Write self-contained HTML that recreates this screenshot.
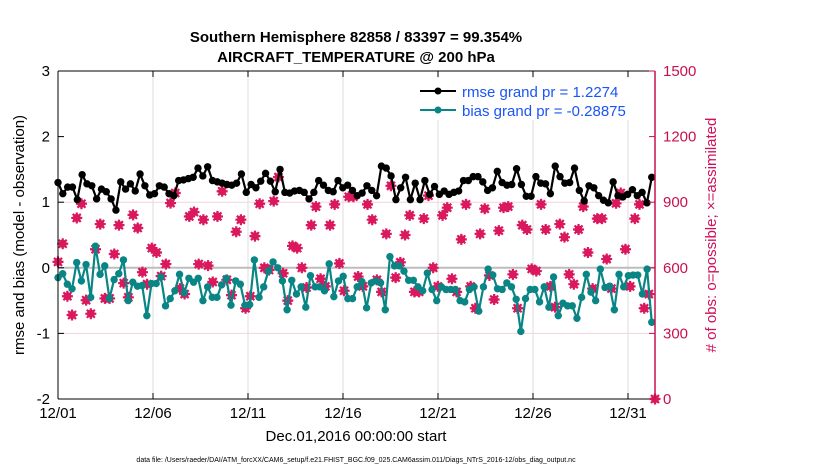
<!DOCTYPE html>
<html><head><meta charset="utf-8"><style>
body{margin:0;background:#fff;}
svg{display:block;font-family:"Liberation Sans",sans-serif;}
</style></head><body>
<svg id="chart" width="830" height="470" viewBox="0 0 830 470">
<rect width="830" height="470" fill="#fff"/>
<g id="grid"></g><g id="marks"></g><g id="axes"></g>
<text x="356" y="42" text-anchor="middle" font-size="15" font-weight="bold">Southern Hemisphere 82858 / 83397 = 99.354%</text>
<text x="356" y="62" text-anchor="middle" font-size="15" font-weight="bold">AIRCRAFT_TEMPERATURE @ 200 hPa</text>
<text x="356" y="441" text-anchor="middle" font-size="15">Dec.01,2016 00:00:00 start</text>
<text transform="translate(24,235) rotate(-90)" text-anchor="middle" font-size="15">rmse and bias (model - observation)</text>
<text transform="translate(716,235) rotate(-90)" text-anchor="middle" font-size="15" fill="#d0105a"># of obs: o=possible; ×=assimilated</text>
<text x="356" y="462" text-anchor="middle" font-size="7">data file: /Users/raeder/DAI/ATM_forcXX/CAM6_setup/f.e21.FHIST_BGC.f09_025.CAM6assim.011/Diags_NTrS_2016-12/obs_diag_output.nc</text>
<g>
<rect x="414" y="78" width="238" height="42" fill="#fff"/>
<line x1="420" y1="91" x2="456" y2="91" stroke="#000" stroke-width="2"/><circle cx="438" cy="91" r="3.5" fill="#000"/>
<text x="462" y="97" font-size="15" fill="#1a55f5">rmse grand pr = 1.2274</text>
<line x1="420" y1="110" x2="456" y2="110" stroke="#0a8585" stroke-width="2"/><circle cx="438" cy="110" r="3.5" fill="#0a8585"/>
<text x="462" y="116" font-size="15" fill="#1a55f5">bias grand pr = -0.28875</text>
</g>
</svg>
<script>
const rmse=[1.30,1.13,1.23,1.23,1.04,1.42,1.28,1.25,1.05,1.20,1.16,1.05,0.88,1.31,1.20,1.28,1.17,1.43,1.25,1.11,1.13,1.25,1.23,1.13,1.10,1.33,1.34,1.36,1.38,1.52,
1.40,1.54,1.33,1.31,1.29,1.27,1.26,1.29,1.43,1.15,1.27,1.22,1.32,1.44,1.32,1.16,1.50,1.15,1.14,1.17,1.18,1.15,1.05,1.15,1.33,1.26,1.18,1.16,1.33,1.22,1.26,1.18,
1.10,1.14,1.25,1.18,1.10,1.55,1.52,1.40,1.04,1.22,1.38,1.04,1.29,1.04,1.33,1.12,1.24,1.12,1.17,1.12,1.15,1.17,1.33,1.33,1.39,1.39,1.31,1.18,1.22,1.47,1.30,
1.26,1.27,1.51,1.27,1.09,1.09,1.39,1.29,1.28,1.13,1.55,1.39,1.29,1.30,1.52,1.18,1.02,1.25,1.22,1.10,1.03,0.99,1.31,1.10,1.08,1.12,1.19,1.10,1.15,0.99,1.38];
const bias=[-0.15,-0.09,-0.25,-0.32,0.08,-0.20,0.05,-0.45,0.33,-0.10,0.03,-0.47,-0.18,-0.09,0.12,-0.50,-0.22,-0.28,-0.27,-0.73,-0.24,-0.24,-0.14,-0.58,-0.47,-0.35,-0.10,-0.38,-0.16,-0.22,-0.16,-0.50,
-0.29,-0.45,-0.45,-0.26,-0.16,-0.57,-0.20,-0.25,-0.57,-0.56,0.12,-0.45,-0.29,-0.05,0.09,0.00,-0.20,-0.64,-0.19,-0.40,-0.29,-0.60,-0.12,-0.29,-0.29,-0.35,0.06,-0.44,-0.20,-0.13,-0.47,-0.47,-0.29,
-0.21,-0.61,-0.23,-0.20,-0.23,-0.64,0.17,0.03,0.03,-0.05,-0.19,-0.19,-0.29,-0.35,-0.08,-0.33,-0.50,-0.29,-0.33,-0.33,-0.33,-0.50,-0.52,-0.33,-0.29,-0.66,-0.29,-0.02,-0.11,-0.32,-0.33,-0.23,
-0.29,-0.48,-0.97,-0.47,-0.33,-0.33,-0.52,-0.29,-0.60,-0.14,-0.73,-0.54,-0.58,-0.58,-0.77,-0.45,-0.10,-0.37,-0.50,-0.02,-0.30,-0.28,-0.64,-0.10,-0.29,-0.12,-0.11,-0.11,-0.40,-0.02,-0.83];
const counts=[627,710,470,384,828,893,452,390,685,800,460,460,663,795,530,465,842,782,580,525,690,670,562,617,896,942,505,480,835,855,617,820,
610,535,835,950,545,475,765,820,415,470,745,893,600,590,905,1015,575,450,700,690,600,510,795,880,550,515,795,890,620,495,925,925,
560,515,890,820,545,490,755,975,555,625,750,840,490,490,825,930,600,515,840,875,550,490,730,890,515,415,755,870,565,455,770,875,
880,570,415,795,775,595,585,890,775,515,420,800,740,570,525,775,880,670,505,825,825,640,505,895,942,685,515,825,890,415,480,0];
const xTickLabels=["12/01","12/06","12/11","12/16","12/21","12/26","12/31"];
const xTickDays=[0,5,10,15,20,25,30];
const yLeftTicks=[3,2,1,0,-1,-2];
const yRightTicks=[1500,1200,900,600,300,0];

const NS="http://www.w3.org/2000/svg";
const L=58,R=655,T=71,B=399;
const xDay=d=>L+d*19;
const yL=v=>B-(v+2)*(B-T)/5;
const yR=v=>B-v*(B-T)/1500;
function mk(tag,attrs,parent){const e=document.createElementNS(NS,tag);for(const k in attrs)e.setAttribute(k,attrs[k]);parent.appendChild(e);return e;}
const grid=document.getElementById('grid'),marks=document.getElementById('marks'),axes=document.getElementById('axes');
const seriesX=(i,n,start,end)=>xDay(start+(end-start)*i/(n-1));

xTickDays.forEach(d=>{const g=mk('line',{x1:xDay(d),x2:xDay(d),y1:T,y2:B,stroke:'#dcdcdc','stroke-width':1},grid);

});
[900,300].forEach(v=>{const g=mk('line',{x1:L,x2:R,y1:yR(v),y2:yR(v),stroke:'#f3d3de','stroke-width':1},grid);

});
const zl=mk('line',{x1:L,x2:R,y1:yL(0),y2:yL(0),stroke:'#bdbdbd','stroke-width':2},grid);



counts.forEach((c,i)=>{
  const x=i===counts.length-1?R:seriesX(i,counts.length-1,0,31.1),y=yR(c);
  const g=mk('g',{},marks);
  
  
  mk('circle',{cx:x,cy:y,r:4,fill:'#d9185d'},g);
  mk('path',{d:`M${x-5.5} ${y}H${x+5.5}M${x} ${y-5.5}V${y+5.5}M${x-4} ${y-4}L${x+4} ${y+4}M${x-4} ${y+4}L${x+4} ${y-4}`,stroke:'#d9185d','stroke-width':2.2},g);
});
function drawSeries(vals,color,name){
  const n=vals.length;
  const pts=vals.map((v,i)=>[seriesX(i,n,0,31.25),yL(v)]);
  const p=mk('polyline',{points:pts.map(p=>p.join(',')).join(' '),fill:'none',stroke:color,'stroke-width':2.2},marks);
  
  
  pts.forEach(q=>{const c=mk('circle',{cx:q[0],cy:q[1],r:3.7,fill:color},marks);
  
  });
}
drawSeries(bias,'#0a8585','bias');
drawSeries(rmse,'#000','rmse');

mk('line',{x1:L,x2:R,y1:T,y2:T,stroke:'#000','stroke-width':1},axes);
mk('line',{x1:L,x2:R,y1:B,y2:B,stroke:'#000','stroke-width':1},axes);
mk('line',{x1:L,x2:L,y1:T,y2:B,stroke:'#000','stroke-width':1},axes);
mk('line',{x1:R,x2:R,y1:T,y2:B,stroke:'#c8104f','stroke-width':1.5},axes);
xTickDays.forEach((d,i)=>{
  mk('line',{x1:xDay(d),x2:xDay(d),y1:B,y2:B-6,stroke:'#000'},axes);
  mk('line',{x1:xDay(d),x2:xDay(d),y1:T,y2:T+6,stroke:'#000'},axes);
  const t=mk('text',{x:xDay(d),y:B+19,'text-anchor':'middle','font-size':15},axes);
  t.textContent=xTickLabels[i];
  
  
});
yLeftTicks.forEach(v=>{
  mk('line',{x1:L,x2:L+6,y1:yL(v),y2:yL(v),stroke:'#000'},axes);
  const t=mk('text',{x:L-8,y:yL(v)+5,'text-anchor':'end','font-size':15},axes);
  t.textContent=v;
  
  
});
yRightTicks.forEach(v=>{
  mk('line',{x1:R-6,x2:R,y1:yR(v),y2:yR(v),stroke:'#c8104f'},axes);
  const t=mk('text',{x:R+8,y:yR(v)+5,'font-size':15,fill:'#c8104f'},axes);
  t.textContent=v;
  
  
});
</script>
</body></html>
